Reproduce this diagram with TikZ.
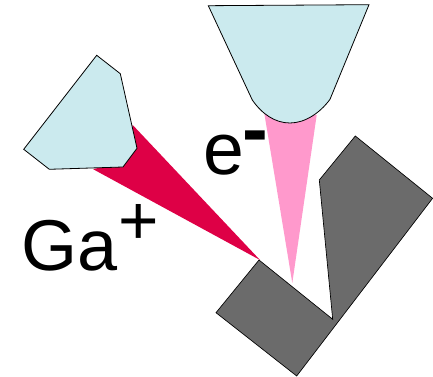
\documentclass[tikz,border=0pt]{standalone}
\usepackage{fontspec}
\setmainfont{Liberation Sans}
\definecolor{tipblue}{RGB}{203,234,238}
\definecolor{ionred}{RGB}{222,0,70}
\definecolor{elpink}{RGB}{255,153,204}
\definecolor{samplegray}{RGB}{107,107,107}
\tikzset{
  tipshape/.style={draw=black,line width=0.6pt,fill=tipblue,line join=miter},
  sample/.style={draw=black,line width=0.5pt,fill=samplegray},
  label/.style={inner sep=0pt,anchor=base west,text=black},
}
\begin{document}
\begin{tikzpicture}[x=0.75pt,y=-0.75pt]
\useasboundingbox (0,0) rectangle (433,377);
% gray sample
\draw[sample] (259,260) -- (332.7,319.3) -- (319.3,180) -- (355.3,136) -- (432.6,198.3) -- (296.7,376) -- (216,312.7) -- cycle;
% beams
\fill[ionred] (132.7,125) -- (260,260) -- (93.3,169.3) -- (125,160) -- cycle;
\fill[elpink] (264.3,113.3) -- (292.3,283) -- (316.7,115) -- cycle;
% tips
\draw[tipshape] (96.7,55.3) -- (120.3,73.7) -- (137,148.3) -- (123,167) -- (49.3,169.3) -- (23.7,149.3) -- cycle;
\draw[tipshape] (208.3,5.7) -- (369,4.7) -- (330,99.3) .. controls (320,113) and (305,123) .. (290,123) .. controls (275,123) and (262,114) .. (252.3,100) -- cycle;
% labels
\node[label,font=\fontsize{54}{54}\selectfont] (ga) at (21.5,271) {Ga};
\node[label,font=\fontsize{52}{52}\selectfont] (plus) at (118,245) {+};
\node[label,font=\fontsize{55}{55}\selectfont] (e) at (203,175) {e};
\node[label,font=\fontsize{58}{58}\selectfont\bfseries] (minus) at (242,156) {-};
\end{tikzpicture}
\end{document}
